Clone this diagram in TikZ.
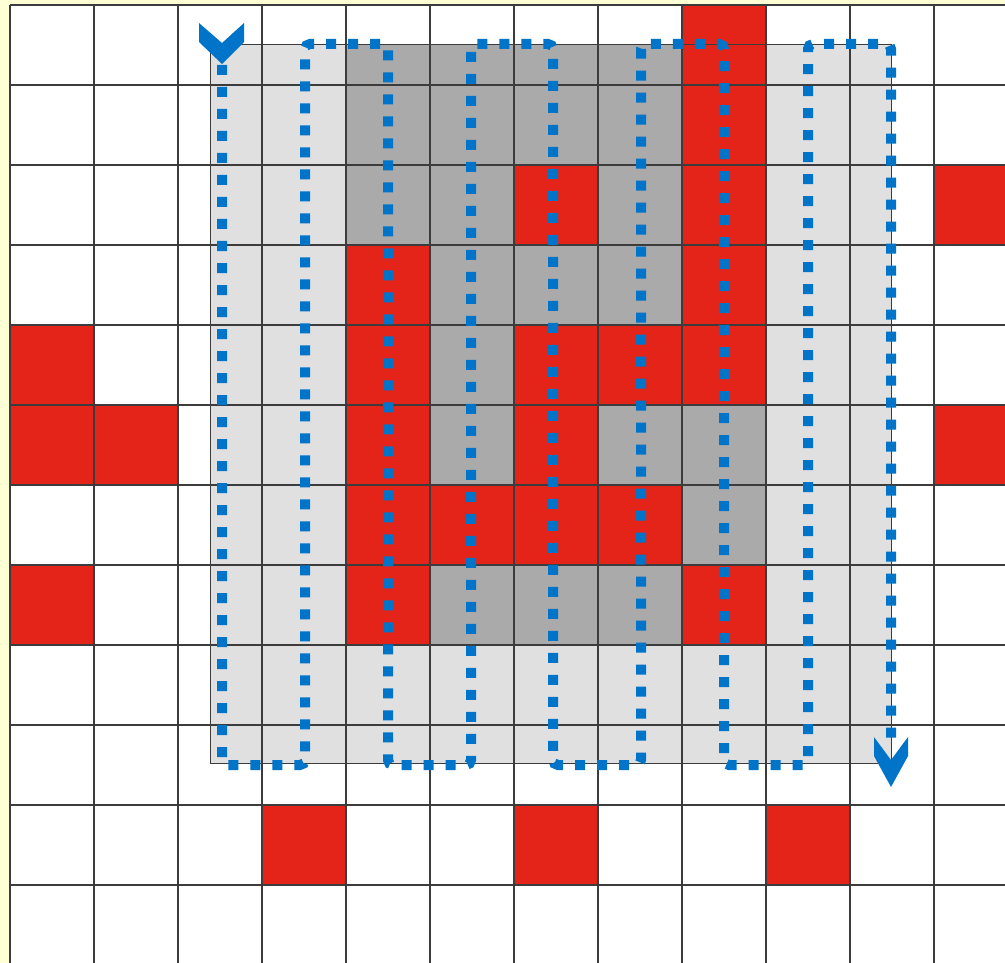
\documentclass[tikz,border=0pt]{standalone}
\definecolor{bgyellow}{RGB}{255,255,214}
\definecolor{lightcell}{RGB}{224,224,224}
\definecolor{darkcell}{RGB}{170,170,170}
\definecolor{redcell}{RGB}{228,36,24}
\definecolor{gridcol}{RGB}{60,60,60}
\definecolor{pathblue}{RGB}{0,116,200}
\tikzset{
  gridline/.style={draw=gridcol, line width=1.4pt},
  bluepath/.style={draw=pathblue, line width=10pt, dash pattern=on 10pt off 12pt, rounded corners=5pt},
  chevron/.style={fill=pathblue, draw=none}
}
\begin{document}
\begin{tikzpicture}[x=1pt,y=-1pt]
\useasboundingbox (0,0) rectangle (1005,963);
\fill[bgyellow] (0,0) rectangle (1005,963);
\fill[white] (10,5) rectangle (1005,963);
% light and dark grey areas
\fill[lightcell] (210,45) rectangle (891,763);
\fill[darkcell] (346,45) rectangle (766,645);
% red cells
\foreach \c/\r in {8/0,8/1,6/2,8/2,11/2,4/3,8/3,0/4,4/4,6/4,7/4,8/4,0/5,1/5,4/5,6/5,11/5,4/6,5/6,6/6,7/6,0/7,4/7,8/7,3/10,6/10,9/10}
  \fill[redcell] ({10+84*\c},{5+80*\r}) rectangle ++(84,80);
% grid
\foreach \k in {0,...,11}
  \draw[gridline] ({10+84*\k},5) -- ({10+84*\k},963);
\foreach \r in {0,...,11}
  \draw[gridline] (10,{5+80*\r}) -- (1005,{5+80*\r});
\draw[gridline, line width=1pt] (210,45) rectangle (891,763);
% serpentine path
\coordinate (start) at (222,65);
\coordinate (finish) at (891,738);
\draw[bluepath] (start) -- (222,765) -- (305,765) -- (305,44) -- (388,44) -- (388,765)
  -- (471,765) -- (471,44) -- (553,44) -- (553,765) -- (641,765) -- (641,44)
  -- (724,44) -- (724,765) -- (808,765) -- (808,44) -- (891,44) -- (finish);
% arrow heads
\fill[chevron] (199,23) -- (222,43) -- (244,23) -- (244,42) -- (222,64) -- (199,42) -- cycle;
\fill[chevron] (874,737) -- (891,760) -- (908,737) -- (908,756) -- (891,787) -- (874,756) -- cycle;
\end{tikzpicture}
\end{document}
